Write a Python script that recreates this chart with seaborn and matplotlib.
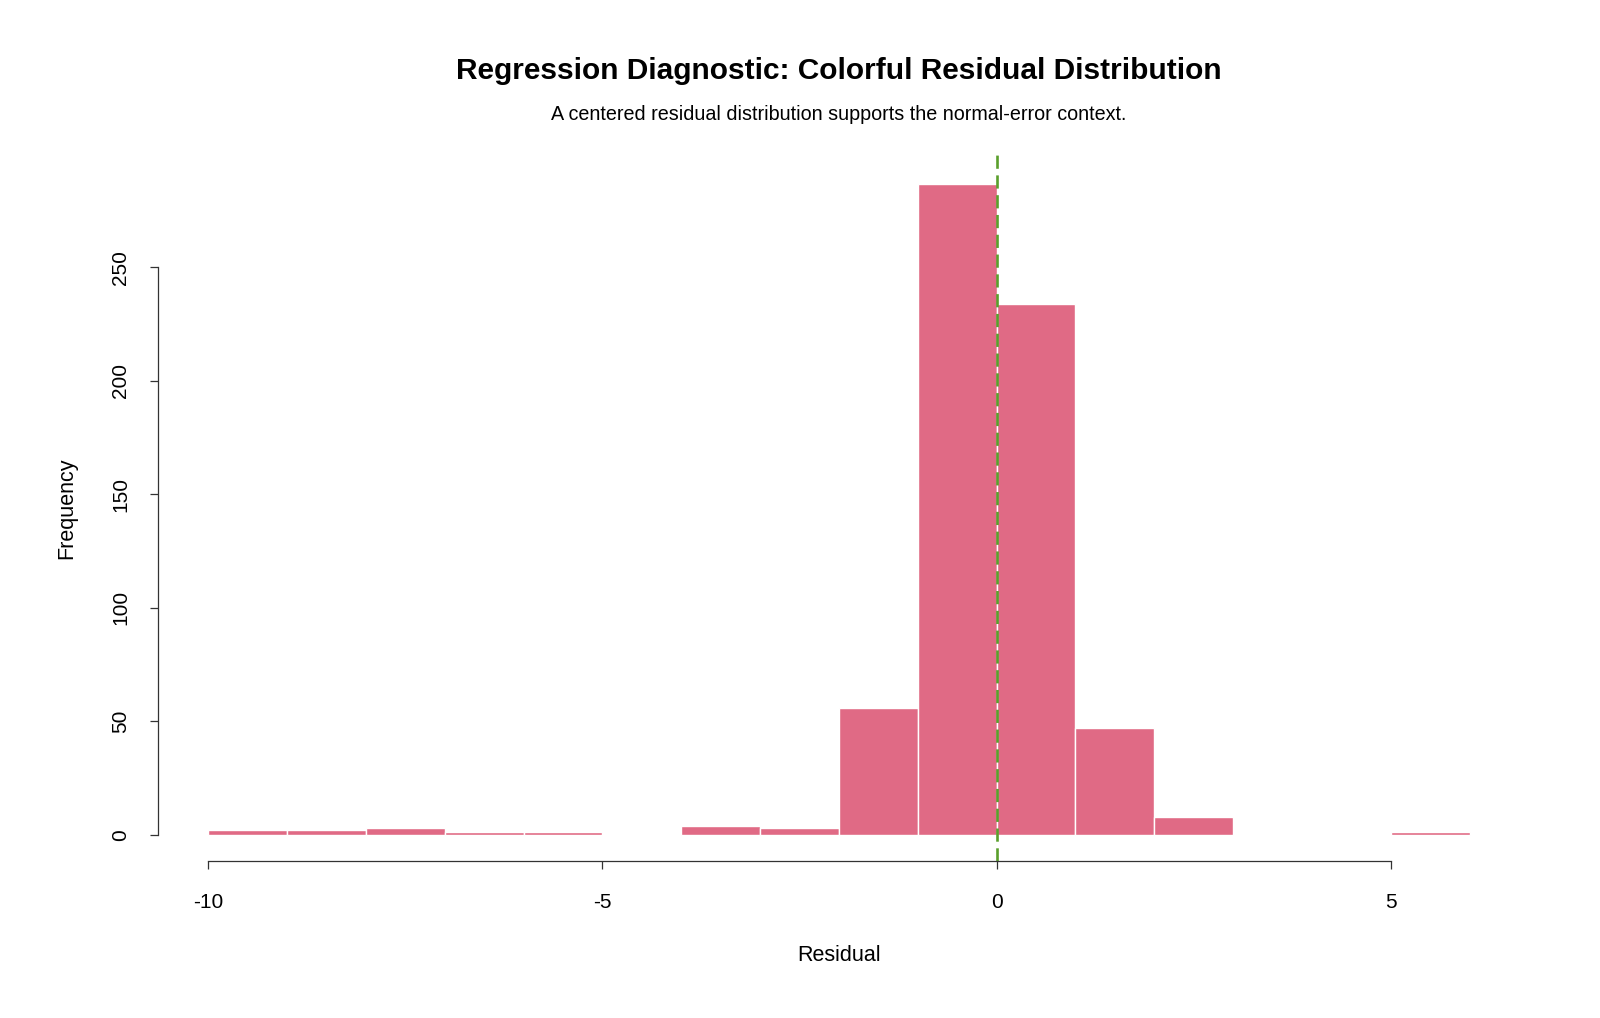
import numpy as np
import pandas as pd
import matplotlib
matplotlib.use("Agg")
import matplotlib.pyplot as plt
import seaborn as sns

# bin edges and counts (width 1)
bin_edges = list(range(-10, 7))
counts = [2, 2, 3, 1, 1, 0, 4, 3, 56, 287, 234, 47, 8, 0, 0, 1]
x_ticks = [-10, -5, 0, 5]
y_ticks = [0, 50, 100, 150, 200, 250]

df = pd.DataFrame({"mid": [e + 0.5 for e in bin_edges[:-1]], "n": counts})

sns.set_style("white")
plt.rcParams['font.family'] = ['Liberation Sans', 'DejaVu Sans']
plt.rcParams['text.color'] = 'black'
plt.rcParams['axes.labelcolor'] = 'black'

fig = plt.figure(figsize=(16, 10.18), dpi=100)
ax = fig.add_axes([0.0986, 0.1544, 0.9501 - 0.0986, 0.8476 - 0.1544])

sns.histplot(data=df, x="mid", weights="n", bins=bin_edges, stat="count",
             color="#e06a85", alpha=1, edgecolor="white", linewidth=1, ax=ax)

# reference line at zero
ax.axvline(0, color="#5a9f2c", linestyle=(0, (5, 2.5)), linewidth=1.9)

ax.set_xlim(-10.64, 6.64)
ax.set_ylim(-11.5, 299.5)
ax.set_xticks(x_ticks)
ax.set_yticks(y_ticks)
ax.set_xticklabels([str(t) for t in x_ticks])
ax.set_yticklabels([str(t) for t in y_ticks], rotation=90, va="center")

for s in ["top", "right"]:
    ax.spines[s].set_visible(False)
ax.spines["bottom"].set_bounds(-10, 5)
ax.spines["left"].set_bounds(0, 250)
for s in ["bottom", "left"]:
    ax.spines[s].set_color("#333333")
    ax.spines[s].set_linewidth(0.9)

ax.tick_params(axis="both", which="both", length=6, width=0.9, color="#333333",
               labelsize=15, labelcolor="black", pad=14, bottom=True, left=True)
ax.tick_params(axis="x", pad=17)

ax.set_xlabel("Residual", fontsize=15.5, labelpad=24)
ax.set_ylabel("Frequency", fontsize=15.5, labelpad=24)

fig.text(0.5243, 0.930, "Regression Diagnostic: Colorful Residual Distribution",
         ha="center", va="center", fontsize=21.5, fontweight="bold")
fig.text(0.5243, 0.888, "A centered residual distribution supports the normal-error context.",
         ha="center", va="center", fontsize=14.2)

fig.savefig("out.png", dpi=100)
